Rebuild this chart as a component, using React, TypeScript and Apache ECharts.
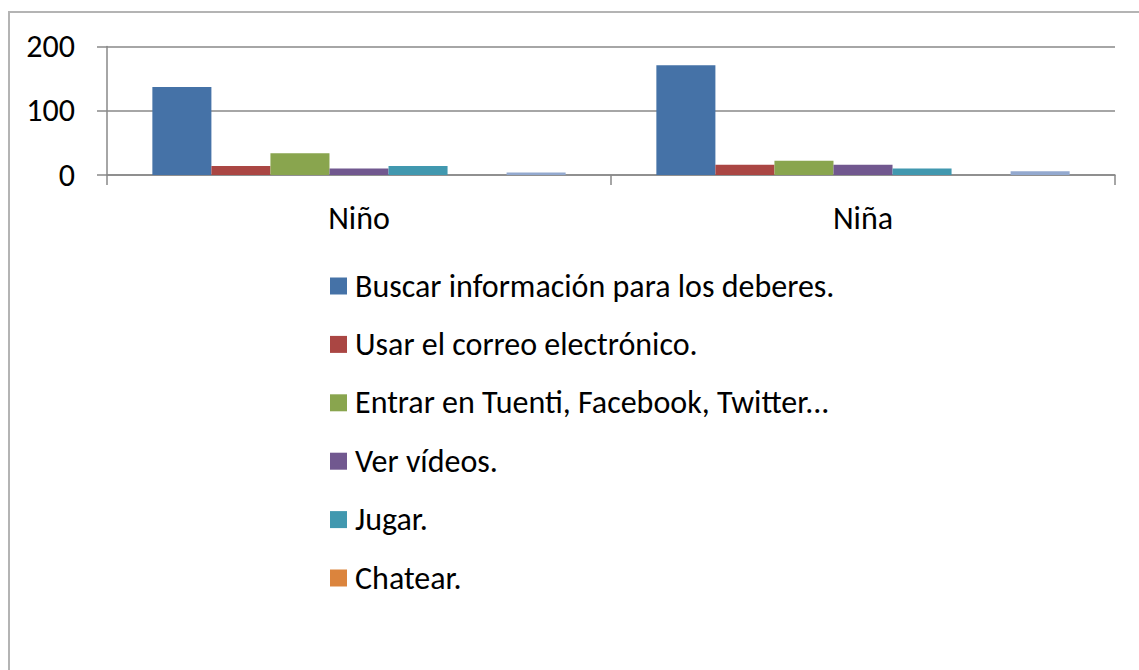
import React, { useEffect, useRef } from "react";
import * as echarts from "echarts";

const categories = ["Niño", "Niña"];
const seriesNames = [
  "Buscar información para los deberes.",
  "Usar el correo electrónico.",
  "Entrar en Tuenti, Facebook, Twitter...",
  "Ver vídeos.",
  "Jugar.",
  "Chatear.",
  "Otros.",
];
const legendNames = seriesNames.slice(0, 6);
const buscar = [137, 171];
const correo = [14, 16];
const redes = [34, 22];
const videos = [10, 16];
const jugar = [14, 10];
const chatear = [0, 0];
const otros = [4, 6];
const seriesValues = [buscar, correo, redes, videos, jugar, chatear, otros];
const colors = ["#4572A7", "#AA4643", "#89A54E", "#71588F", "#4198AF", "#DB843D", "#93A9CF"];
const yTicks = { min: 0, max: 200, interval: 100 };

const FONT = "Carlito, Lato, 'Open Sans', sans-serif";

export default function App() {
  const ref = useRef<HTMLDivElement>(null);
  useEffect(() => {
    if (!ref.current) return;
    const chart = echarts.init(ref.current, undefined, { renderer: "svg" });
    chart.setOption({
      animation: false,
      backgroundColor: "#ffffff",
      textStyle: { fontFamily: FONT, color: "#000" },
      graphic: [
        {
          type: "rect",
          shape: { x: 9, y: 12, width: 1200, height: 800 },
          style: { fill: "none", stroke: "#b4b4b4", lineWidth: 2 },
          silent: true,
        },
      ],
      grid: { left: 107, right: 24, top: 46.5, bottom: 670 - 175, containLabel: false },
      legend: {
        data: legendNames,
        orient: "vertical",
        left: 330,
        top: 270,
        padding: 0,
        itemWidth: 17,
        itemHeight: 17,
        itemGap: 26.4,
        icon: "rect",
        textStyle: { fontFamily: FONT, fontSize: 32, color: "#000", padding: [0, 0, 0, 3] },
        selectedMode: false,
      },
      xAxis: {
        type: "category",
        data: categories,
        axisLine: { lineStyle: { color: "#888888", width: 1.5 } },
        axisTick: { show: true, length: 10, lineStyle: { color: "#888888", width: 1.5 } },
        axisLabel: { fontFamily: FONT, fontSize: 32, color: "#000", margin: 27 },
      },
      yAxis: {
        type: "value",
        min: yTicks.min,
        max: yTicks.max,
        interval: yTicks.interval,
        axisLine: { show: true, lineStyle: { color: "#888888", width: 1.5 } },
        axisTick: { show: true, length: 10, lineStyle: { color: "#888888", width: 1.5 } },
        splitLine: { lineStyle: { color: "#888888", width: 1.5 } },
        axisLabel: { fontFamily: FONT, fontSize: 32, color: "#000", margin: 32 },
      },
      series: seriesNames.map((name, i) => ({
        name,
        type: "bar",
        data: seriesValues[i],
        barGap: "0%",
        barCategoryGap: "18%",
        itemStyle: { color: colors[i] },
      })),
    });
    return () => chart.dispose();
  }, []);
  return (
    <div
      ref={ref}
      style={{ position: "fixed", left: 0, top: 0, width: 1139, height: 670 }}
    />
  );
}
